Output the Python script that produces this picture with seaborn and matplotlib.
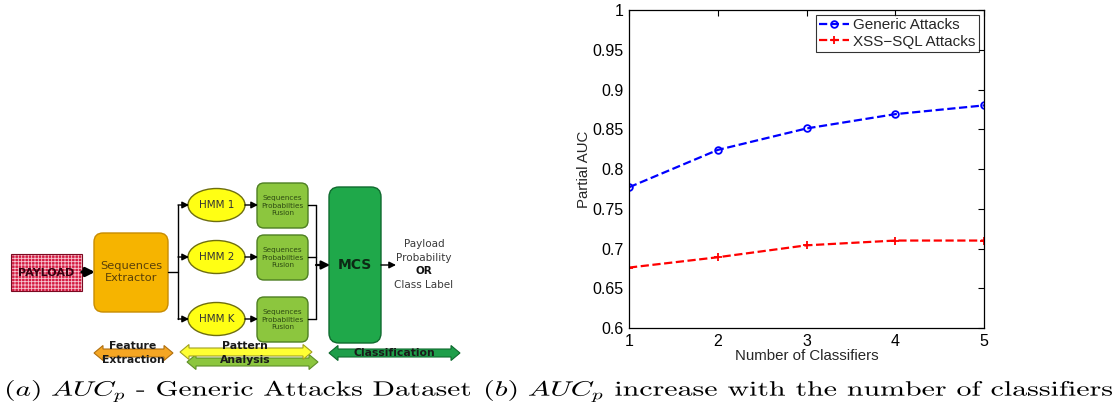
import numpy as np
import pandas as pd
import matplotlib
matplotlib.use("Agg")
import matplotlib.pyplot as plt
import matplotlib.patches as mpatches
from matplotlib.textpath import TextPath
from matplotlib.font_manager import FontProperties
from matplotlib.transforms import Affine2D
import seaborn as sns

# ------------------------ data ------------------------
n_classifiers = [1, 2, 3, 4, 5]
generic_auc = [0.777, 0.824, 0.851, 0.869, 0.880]
xss_sql_auc = [0.676, 0.689, 0.704, 0.710, 0.710]
series_labels = ["Generic Attacks", "XSS\u2212SQL Attacks"]
y_ticks = [0.6, 0.65, 0.7, 0.75, 0.8, 0.85, 0.9, 0.95, 1.0]
y_ticklabels = ["0.6", "0.65", "0.7", "0.75", "0.8", "0.85", "0.9", "0.95", "1"]

hmm_labels = ["HMM 1", "HMM 2", "HMM K"]
output_labels = ["Payload", "Probability", "OR", "Class Label"]
stage_labels = ["Feature", "Extraction", "Pattern", "Analysis", "Classification"]
captions = [r"$(a)\ AUC_p$ - Generic Attacks Dataset",
            r"$(b)\ AUC_p$ increase with the number of classifiers"]

sns.set_style("white")
plt.rcParams["font.family"] = ["Liberation Sans", "DejaVu Sans"]
plt.rcParams["mathtext.fontset"] = "cm"
plt.rcParams["hatch.linewidth"] = 0.6

W, H = 1117, 415
fig = plt.figure(figsize=(W / 100, H / 100), dpi=100)

# ------------------------ (a) block diagram, pixel coords ------------------------
axd = fig.add_axes([0, 0, 0.5, 1])
axd.set_xlim(0, W * 0.5)
axd.set_ylim(H, 0)
axd.axis("off")
vf = "DejaVu Sans"


def rbox(x0, y0, x1, y1, fc, ec, pad=7):
    p = mpatches.FancyBboxPatch((x0 + pad, y0 + pad), x1 - x0 - 2 * pad, y1 - y0 - 2 * pad,
                                boxstyle=f"round,pad={pad}", fc=fc, ec=ec, lw=1.0)
    axd.add_patch(p)


def arrow(x0, y0, x1, y1, lw=1.0, hs=6):
    axd.annotate("", xy=(x1, y1), xytext=(x0, y0),
                 arrowprops=dict(arrowstyle=f"-|>,head_length={hs/10},head_width={hs/20}",
                                 lw=lw, color="black", shrinkA=0, shrinkB=0))


def dbl_arrow(x0, x1, y, fc, ec, shaft=8, head=15, hl=9):
    s, h = shaft / 2, head / 2
    pts = [(x0, y), (x0 + hl, y - h), (x0 + hl, y - s), (x1 - hl, y - s), (x1 - hl, y - h),
           (x1, y), (x1 - hl, y + h), (x1 - hl, y + s), (x0 + hl, y + s), (x0 + hl, y + h)]
    axd.add_patch(mpatches.Polygon(pts, closed=True, fc=fc, ec=ec, lw=0.8))


# payload
axd.add_patch(mpatches.Rectangle((11, 254), 71, 37, fc="#d41a42", ec="#f6c6d0", hatch="+++++", lw=0))
axd.add_patch(mpatches.Rectangle((11, 254), 71, 37, fill=False, ec="#7a0a22", lw=0.8))
axd.text(46.5, 273, "PAYLOAD", ha="center", va="center", fontsize=8, fontweight="bold",
         color="#3a0010", family=vf)
arrow(82, 272, 95, 272, lw=2.4, hs=5)

# sequences extractor
rbox(94, 233, 168, 312, "#f6b400", "#c88c00", pad=9)
axd.text(131, 272, "Sequences\nExtractor", ha="center", va="center", fontsize=8.2,
         color="#5a4008", family=vf, linespacing=1.3)
axd.plot([168, 178], [272, 272], color="black", lw=1)
axd.plot([178, 178], [205, 319], color="black", lw=1)

hmm_y = [205, 257, 319]
fus_y = [(183, 228), (235, 280), (297, 342)]
for lab, yc, (fy0, fy1) in zip(hmm_labels, hmm_y, fus_y):
    arrow(178, yc, 189, yc, hs=4)
    axd.add_patch(mpatches.Ellipse((216.5, yc), 57, 33, fc="#ffff14", ec="#6e6e10", lw=1))
    axd.text(216.5, yc, lab, ha="center", va="center", fontsize=7.5, color="#333", family=vf)
    arrow(245, yc, 258, yc, hs=4)
    rbox(257, fy0, 308, fy1, "#8cc63e", "#4e7f22", pad=7)
    axd.text(282.5, (fy0 + fy1) / 2, "Sequences\nProbabilties\nFusion", ha="center", va="center",
             fontsize=5.2, color="#2d4a12", family=vf, linespacing=1.25)
    axd.plot([308, 316], [yc, yc], color="black", lw=1)
axd.plot([316, 316], [205, 319], color="black", lw=1)
arrow(316, 265, 330, 265, lw=1.6, hs=5)

# MCS
rbox(329, 187, 381, 343, "#1fa84a", "#0f6a2e", pad=10)
axd.text(355, 265, "MCS", ha="center", va="center", fontsize=10, fontweight="bold",
         color="#0c2a14", family=vf)
arrow(381, 265, 396, 265, hs=4)
for lab, yy in zip(output_labels, [244, 258, 271, 285]):
    axd.text(424, yy, lab, ha="center", va="center", fontsize=7.5,
             fontweight="bold" if lab == "OR" else "normal",
             color="#111" if lab == "OR" else "#3a3a3a", family=vf)

# stage arrows
dbl_arrow(94, 173, 353, "#f5a623", "#b07010")
dbl_arrow(187, 318, 362, "#8cc63e", "#5e8f28")
dbl_arrow(180, 312, 352, "#ffff33", "#a0a020")
dbl_arrow(329, 460, 353, "#1e9e4a", "#0f6a2e")
for lab, (xx, yy) in zip(stage_labels, [(133, 346), (133, 360), (245, 346), (245, 360), (394, 353)]):
    axd.text(xx, yy, lab, ha="center", va="center", fontsize=7.8, fontweight="bold",
             color="#1a1a1a", family=vf)

# ------------------------ (b) line chart ------------------------
ax = fig.add_axes([629 / W, 1 - 328 / H, (984 - 629) / W, (328 - 10) / H])
df = pd.DataFrame({"n": n_classifiers, "generic": generic_auc, "xss": xss_sql_auc})
sns.lineplot(data=df, x="n", y="generic", ax=ax, color="blue", linestyle="--", lw=1.6,
             marker="o", ms=4.8, mfc="none", mec="blue", mew=1.3, label=series_labels[0])
sns.lineplot(data=df, x="n", y="xss", ax=ax, color="red", linestyle="--", lw=1.6,
             marker="+", ms=6, mec="red", mew=1.3, label=series_labels[1])
ax.set_xlim(1, 5)
ax.set_ylim(0.6, 1.0)
ax.set_xticks(n_classifiers)
ax.set_yticks(y_ticks)
ax.set_yticklabels(y_ticklabels)
ax.tick_params(direction="in", top=True, right=True, length=4, width=0.8, labelsize=11.5,
               colors="black", pad=4)
for s in ax.spines.values():
    s.set_color("black")
    s.set_linewidth(0.9)
ax.set_xlabel("Number of Classifiers", fontsize=10.8, labelpad=0)
ax.set_ylabel("Partial AUC", fontsize=10.8, labelpad=1)
leg = ax.legend(loc="upper right", fontsize=11, frameon=True, fancybox=False, handlelength=2.0,
                borderpad=0.2, labelspacing=0.15, handletextpad=0.25, borderaxespad=0.35)
leg.get_frame().set_edgecolor("black")
leg.get_frame().set_linewidth(0.8)

# ------------------------ captions (stretched to the reference boxes) ------------------------
axc = fig.add_axes([0, 0, 1, 1])
axc.set_xlim(0, W)
axc.set_ylim(H, 0)
axc.axis("off")
axc.patch.set_alpha(0)


def fit_text(s, x0, x1, ytop, ybot):
    tp = TextPath((0, 0), s, size=20, prop=FontProperties(family="cmr10"))
    bb = tp.get_extents()
    tr = (Affine2D().translate(-bb.x0, -bb.y1)
          .scale((x1 - x0) / bb.width, -(ybot - ytop) / bb.height).translate(x0, ytop))
    axc.add_patch(mpatches.PathPatch(tr.transform_path(tp), fc="black", ec="none", lw=0))


fit_text(captions[0], 7, 470, 380, 402)
fit_text(captions[1], 486, 1112, 380, 402)

fig.savefig("out.png", dpi=100)
